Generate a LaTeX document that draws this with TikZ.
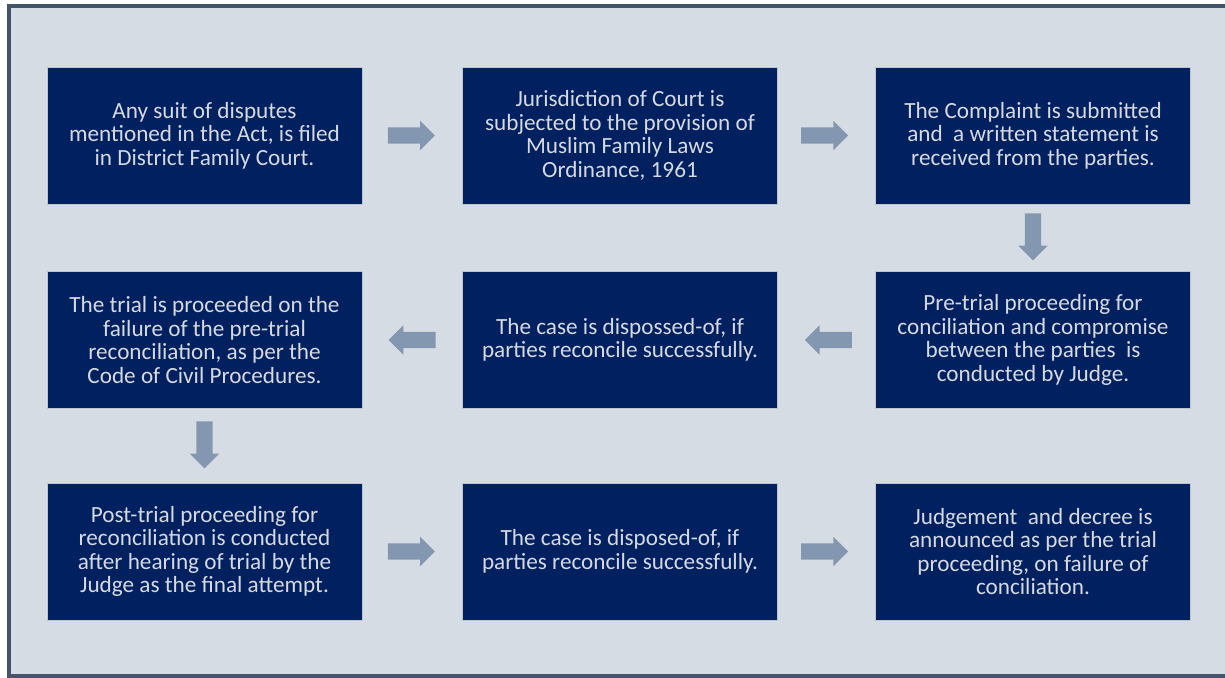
\documentclass[tikz,border=0pt]{standalone}
\usepackage{fontspec}
\setmainfont{Carlito}
\usetikzlibrary{shapes.arrows,calc}
\definecolor{bgfill}{HTML}{D6DCE4}
\definecolor{framec}{HTML}{44546A}
\definecolor{boxfill}{HTML}{002060}
\definecolor{boxline}{HTML}{BFC5CE}
\definecolor{txt}{HTML}{D6D9E0}
\definecolor{arrowc}{HTML}{8497B0}
\tikzset{
  stepbox/.style={draw=boxline, line width=1pt, fill=boxfill, minimum width=315pt, minimum height=137pt,
    inner sep=0pt, align=center, text=txt, font=\fontsize{23.2}{23.6}\selectfont},
  blockarrow/.style={single arrow, fill=arrowc, draw=none, inner xsep=0pt, inner ysep=8pt,
    minimum height=47pt, single arrow head extend=6.5pt, single arrow tip angle=90},
  downarrow/.style={blockarrow, shape border rotate=270, inner xsep=8pt, inner ysep=0pt},
}
\begin{document}
\begin{tikzpicture}[x=1pt,y=1pt]
\useasboundingbox (0,0) rectangle (1225,-677);
\begin{scope}
\clip (0,0) rectangle (1225,-677);
\fill[white] (0,0) rectangle (1225,-677);
\draw[framec, line width=4pt, fill=bgfill] (9,-6) rectangle (1229,-675.5);
\end{scope}
\node[stepbox] (b1) at (204.5,-135.5) {Any suit of disputes\\mentioned in the Act, is filed\\in District Family Court.};
\node[stepbox] (b2) at (620,-135.5) {Jurisdiction of Court is\\subjected to the provision of\\Muslim Family Laws\\Ordinance, 1961};
\node[stepbox] (b3) at (1033,-135.5) {The Complaint is submitted\\and\ \ a written statement is\\received from the parties.};
\node[stepbox] (b4) at (1033,-340) {Pre-trial proceeding for\\conciliation and compromise\\between the parties\ \ is\\conducted by Judge.};
\node[stepbox] (b5) at (620,-340) {The case is dispossed-of, if\\parties reconcile successfully.};
\node[stepbox] (b6) at (204.5,-340) {The trial is proceeded on the\\failure of the pre-trial\\reconciliation, as per the\\Code of Civil Procedures.};
\node[stepbox] (b7) at (204.5,-551.5) {Post-trial proceeding for\\reconciliation is conducted\\after hearing of trial by the\\Judge as the final attempt.};
\node[stepbox] (b8) at (620,-551.5) {The case is disposed-of, if\\parties reconcile successfully.};
\node[stepbox] (b9) at (1033,-551.5) {Judgement\ \ and decree is\\announced as per the trial\\proceeding, on failure of\\conciliation.};
\node[blockarrow] (a1) at ($(b1.east)!0.5!(b2.west)+(-5,0)$) {};
\node[blockarrow] (a2) at ($(b2.east)!0.5!(b3.west)+(-6,0)$) {};
\node[downarrow] (a3) at ($(b3.south)!0.5!(b4.north)+(0,5)$) {};
\node[blockarrow, shape border rotate=180] (a4) at ($(b4.west)!0.5!(b5.east)+(6,0)$) {};
\node[blockarrow, shape border rotate=180] (a5) at ($(b5.west)!0.5!(b6.east)+(4,0)$) {};
\node[downarrow] (a6) at ($(b6.south)!0.5!(b7.north)+(0,5)$) {};
\node[blockarrow] (a7) at ($(b7.east)!0.5!(b8.west)+(-5,0)$) {};
\node[blockarrow] (a8) at ($(b8.east)!0.5!(b9.west)+(-6,0)$) {};
\end{tikzpicture}
\end{document}
